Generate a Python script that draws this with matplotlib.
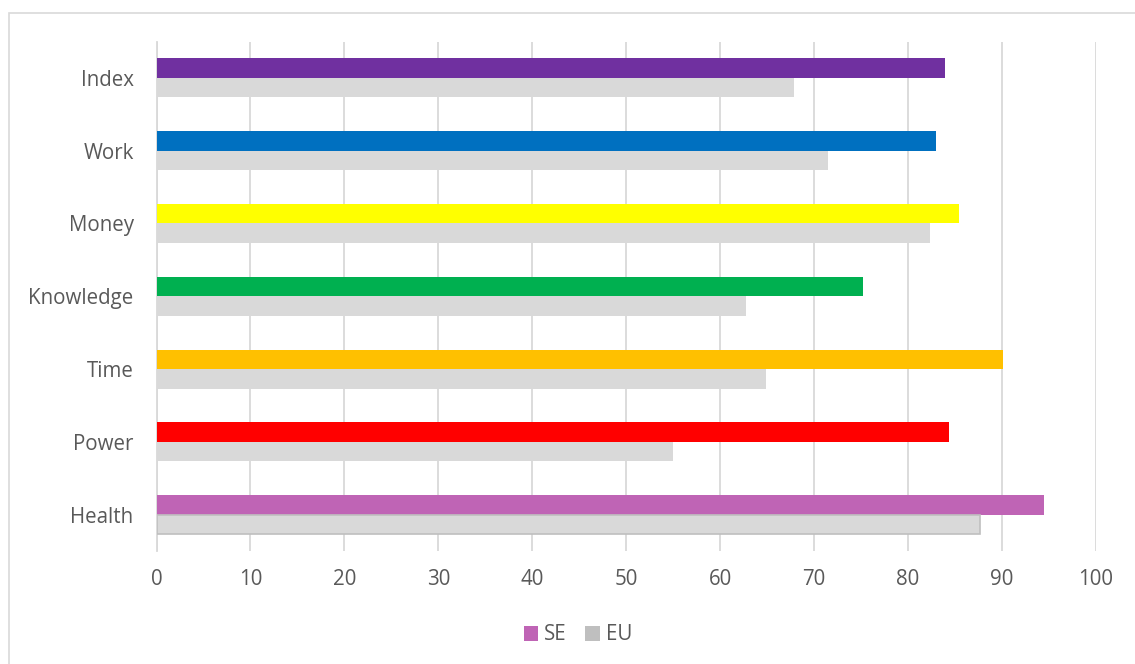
import matplotlib
matplotlib.use("Agg")
import matplotlib.pyplot as plt
from matplotlib.patches import Rectangle, Patch
import numpy as np

plt.rcParams['font.family'] = ['Open Sans', 'DejaVu Sans']

# Gender equality domains, bottom to top
categories = ["Health", "Power", "Time", "Knowledge", "Money", "Work", "Index"]
se_values = [94.5, 84.4, 90.1, 75.2, 85.4, 83.0, 83.9]
eu_values = [87.7, 55.0, 64.9, 62.7, 82.3, 71.5, 67.9]
se_colors = ["#bf64b5", "#ff0000", "#ffc000", "#00b050", "#ffff00", "#0070c0", "#7030a0"]
eu_color = "#d9d9d9"
x_ticks = [0, 10, 20, 30, 40, 50, 60, 70, 80, 90, 100]

W, H = 1135, 664
fig = plt.figure(figsize=(W / 100, H / 100), dpi=100)
fig.patch.set_facecolor("white")

# outer chart frame
fig.add_artist(Rectangle((8.5 / W, -0.1), 1.2, 1 - 12.5 / H + 0.1,
                         transform=fig.transFigure, fill=False,
                         edgecolor="#d9d9d9", linewidth=1.2))

left, right = 156.5 / W, 1096 / W
bottom, top = 1 - 551 / H, 1 - 41.5 / H
ax = fig.add_axes([left, bottom, right - left, top - bottom])

y = np.arange(len(categories))
bh = 0.268
ax.barh(y + bh / 2, se_values, height=bh, color=se_colors, zorder=3)
eu_bars = ax.barh(y - bh / 2, eu_values, height=bh, color=eu_color, zorder=3)
eu_bars[0].set_edgecolor("#bfbfbf")
eu_bars[0].set_linewidth(1.2)

fs = 14.8
ax.set_xlim(0, 100)
ax.set_ylim(-0.5, len(categories) - 0.5)
ax.set_xticks(x_ticks)
ax.set_yticks(y)
ax.set_yticklabels(categories)
ax.tick_params(axis="both", length=0, labelsize=fs, labelcolor="#595959")
ax.tick_params(axis="x", pad=13)
ax.tick_params(axis="y", pad=16.5)
ax.grid(axis="x", color="#d9d9d9", linewidth=1.3, zorder=0)
for s in ["top", "right", "bottom"]:
    ax.spines[s].set_visible(False)
ax.spines["left"].set_color("#d9d9d9")
ax.spines["left"].set_linewidth(1.3)
ax.spines["left"].set_zorder(1)

handles = [Patch(facecolor="#bf64b5", label="SE"), Patch(facecolor="#bfbfbf", label="EU")]
fig.legend(handles=handles, loc="center", bbox_to_anchor=(578 / W, 1 - 635 / H),
           ncol=2, frameon=False, fontsize=fs, labelcolor="#595959",
           handlelength=0.7, handleheight=0.7, handletextpad=0.3, columnspacing=0.9)

fig.savefig("out.png", dpi=100, facecolor="white")
